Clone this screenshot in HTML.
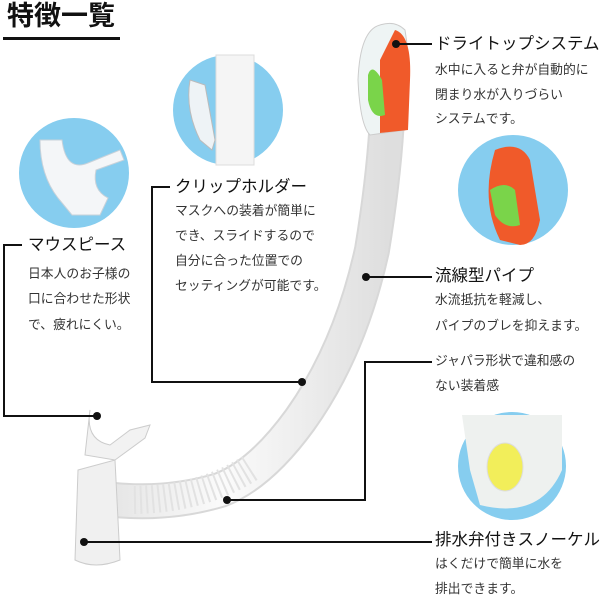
<!DOCTYPE html>
<html><head><meta charset="utf-8"><style>
html,body{margin:0;padding:0;background:#fff;}
body{width:600px;height:597px;position:relative;overflow:hidden;font-family:"Liberation Sans","Noto Sans CJK JP",sans-serif;color:#222;}
.t{position:absolute;white-space:nowrap;line-height:1;}
.h{font-size:16.5px;color:#111;}
.b{font-size:12.8px;color:#333;}
</style></head><body>
<svg width="600" height="597" style="position:absolute;left:0;top:0">
<defs>
<linearGradient id="tg" x1="0" x2="1"><stop offset="0" stop-color="#e6e6e6"/><stop offset="0.4" stop-color="#fbfbfb"/><stop offset="1" stop-color="#dedede"/></linearGradient>
</defs>
<rect x="3" y="37" width="117" height="3" fill="#111"/>
<circle cx="74" cy="173" r="55" fill="#86cdef"/>
<path d="M40 140 Q40 175 58 198 L72 215 L100 215 L108 198 Q92 190 96 170 L124 160 L120 150 L88 163 Q66 172 62 140 Z" fill="#f4f6f8" stroke="#c8d2da"/>
<circle cx="228" cy="110" r="55" fill="#86cdef"/>
<rect x="216" y="55" width="38" height="110" fill="#f5f5f5" stroke="#ddd"/>
<path d="M205 85 L190 80 Q185 110 200 140 L212 150 L215 140 Z" fill="#eef3f6" stroke="#bbb"/>
<circle cx="513" cy="190" r="55" fill="#86cdef"/>
<path d="M495 150 Q520 140 530 160 L540 220 Q535 245 520 245 L500 240 Q480 200 495 150Z" fill="#f05a2a"/>
<path d="M490 190 Q505 180 515 190 L520 225 Q505 230 495 215Z" fill="#7ad44a"/>
<circle cx="512" cy="466" r="54" fill="#86cdef"/>
<path d="M462 415 L562 415 L562 470 Q540 520 480 505 L470 470 Z" fill="#eef1ef"/>
<ellipse cx="505" cy="467" rx="18" ry="24" fill="#f2ee5a" stroke="#ddd"/>
<path d="M388 60 Q390 140 372 250 Q350 350 300 420 Q260 475 220 490 Q170 505 115 500" fill="none" stroke="#d8d8d8" stroke-width="36" stroke-linecap="round"/>
<path d="M388 60 Q390 140 372 250 Q350 350 300 420 Q260 475 220 490 Q170 505 115 500" fill="none" stroke="url(#tg)" stroke-width="32" stroke-linecap="round"/>
<path d="M250 468 Q200 500 130 500" fill="none" stroke="#e2e2e2" stroke-width="28" stroke-dasharray="2 4"/>
<path d="M78 470 L115 460 L120 560 Q95 570 75 560 Z" fill="#f0f0f0" stroke="#ccc"/>
<path d="M90 410 Q85 440 110 445 L130 430 L150 425 L145 438 L115 460 L85 455 Z" fill="#f2f2f2" stroke="#ccc"/>
<path d="M380 25 Q360 30 358 80 Q360 125 370 135 L405 130 Q412 70 405 30 Q395 20 380 25Z" fill="#eef4f4" stroke="#ccc"/>
<path d="M395 30 Q412 35 410 80 L408 130 L380 133 L380 60 Z" fill="#f05a2a"/>
<path d="M368 75 Q372 62 382 80 L385 115 Q372 120 368 100Z" fill="#7ad44a"/>
<g stroke="#111" stroke-width="2" fill="none">
<polyline points="22,245 4,245 4,416 97,416"/>
<polyline points="170,187 152,187 152,382 302,382"/>
<line x1="396" y1="44" x2="432" y2="44"/>
<line x1="366" y1="277" x2="432" y2="277"/>
<polyline points="432,362 365,362 365,500 227,500"/>
<line x1="84" y1="542" x2="432" y2="542"/>
</g>
<g fill="#111">
<circle cx="97" cy="416" r="4"/><circle cx="302" cy="382" r="4"/><circle cx="396" cy="44" r="4"/>
<circle cx="366" cy="277" r="4"/><circle cx="227" cy="500" r="4"/><circle cx="84" cy="542" r="4"/>
</g>
</svg>
<div class="t" style="left:7px;top:3px;font-size:27px;font-weight:bold;color:#111">特徴一覧</div>
<div class="t h" style="left:28px;top:237px">マウスピース</div>
<div class="t b" style="left:28px;top:268px">日本人のお子様の</div>
<div class="t b" style="left:28px;top:293px">口に合わせた形状</div>
<div class="t b" style="left:28px;top:319px">で、疲れにくい。</div>
<div class="t h" style="left:175px;top:179px">クリップホルダー</div>
<div class="t b" style="left:175px;top:205px">マスクへの装着が簡単に</div>
<div class="t b" style="left:175px;top:230px">でき、スライドするので</div>
<div class="t b" style="left:175px;top:255px">自分に合った位置での</div>
<div class="t b" style="left:175px;top:280px">セッティングが可能です。</div>
<div class="t h" style="left:435px;top:36px">ドライトップシステム</div>
<div class="t b" style="left:435px;top:64px">水中に入ると弁が自動的に</div>
<div class="t b" style="left:435px;top:89px">閉まり水が入りづらい</div>
<div class="t b" style="left:435px;top:113px">システムです。</div>
<div class="t h" style="left:435px;top:268px">流線型パイプ</div>
<div class="t b" style="left:435px;top:294px">水流抵抗を軽減し、</div>
<div class="t b" style="left:435px;top:320px">パイプのブレを抑えます。</div>
<div class="t b" style="left:435px;top:355px">ジャパラ形状で違和感の</div>
<div class="t b" style="left:435px;top:380px">ない装着感</div>
<div class="t h" style="left:435px;top:532px">排水弁付きスノーケル</div>
<div class="t b" style="left:435px;top:558px">はくだけで簡単に水を</div>
<div class="t b" style="left:435px;top:583px">排出できます。</div>
</body></html>
